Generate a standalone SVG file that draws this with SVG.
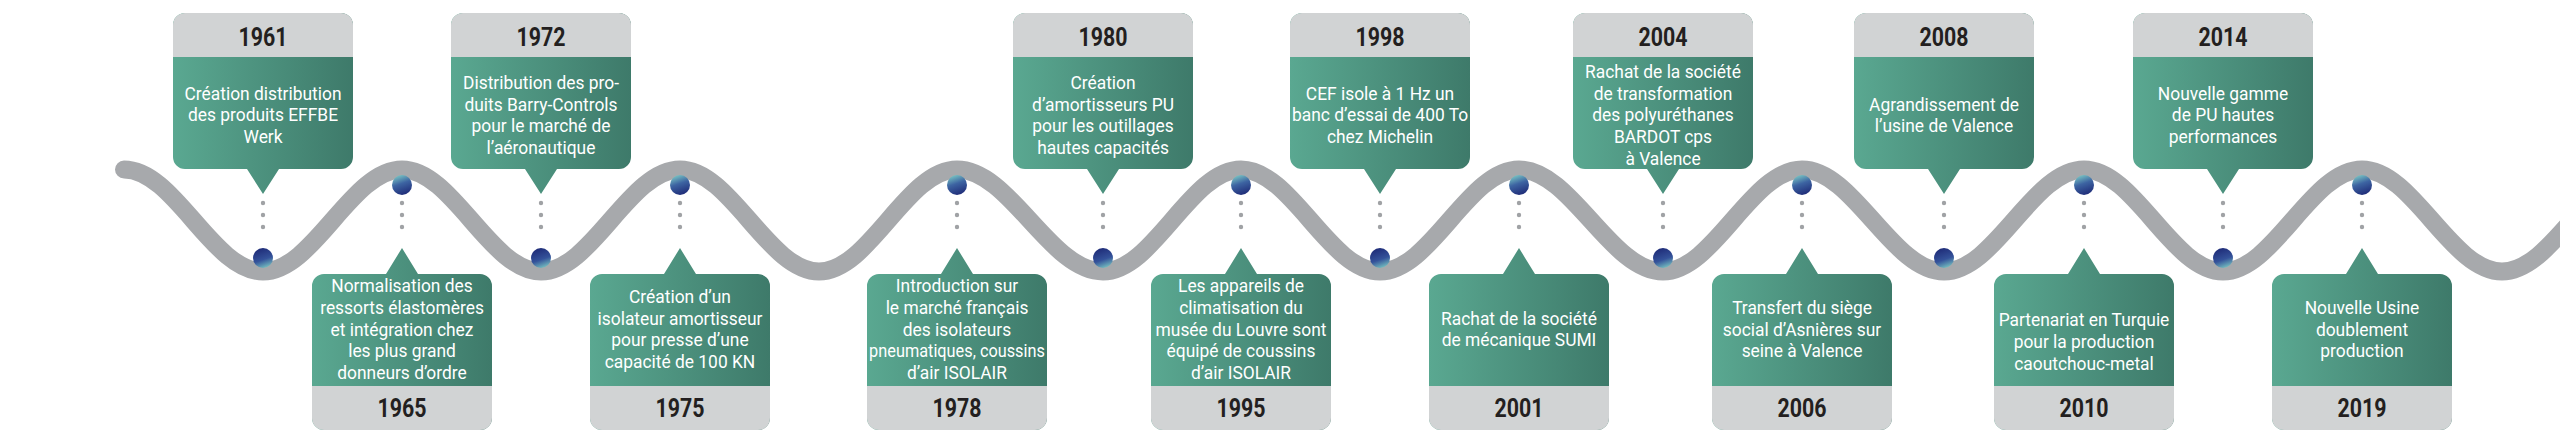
<svg xmlns="http://www.w3.org/2000/svg" xmlns:xlink="http://www.w3.org/1999/xlink" width="2560" height="447" viewBox="0 0 2560 447">
<style>
.wave{fill:none;stroke:#a7a9ac;stroke-width:18;stroke-linecap:round}
.card{fill:url(#gGreen)}
.head{fill:#d1d3d4}
.yr{font-family:Roboto,"Liberation Sans",sans-serif;font-weight:700;font-size:25.5px;fill:#231f20;text-anchor:middle}
.txt{font-family:Roboto,"Liberation Sans",sans-serif;font-size:18.5px;fill:#ffffff;text-anchor:middle}
.dots{fill:none;stroke:#a0a2a5;stroke-width:4.4;stroke-linecap:round;stroke-dasharray:0 12}
.pk{fill:url(#gPk)}
.tr{fill:url(#gTr)}
</style>
<defs>
<linearGradient id="gGreen" x1="0" y1="0" x2="1" y2="0">
<stop offset="0" stop-color="#5aa891"/>
<stop offset="1" stop-color="#3e7a6a"/>
</linearGradient>
<linearGradient id="gPk" x1="0.25" y1="0" x2="0.6" y2="1">
<stop offset="0" stop-color="#7ccac5"/>
<stop offset="0.45" stop-color="#3d64a2"/>
<stop offset="1" stop-color="#1f2c78"/>
</linearGradient>
<linearGradient id="gTr" x1="0.4" y1="0" x2="0.75" y2="1">
<stop offset="0" stop-color="#1f2c78"/>
<stop offset="0.55" stop-color="#34529a"/>
<stop offset="1" stop-color="#7ccac3"/>
</linearGradient>
<path id="tb" d="M12 13H168A12 12 0 0 1 180 25V157A12 12 0 0 1 168 169H106L90 194L74 169H12A12 12 0 0 1 0 157V25A12 12 0 0 1 12 13Z"/>
<path id="th" d="M0 57V25A12 12 0 0 1 12 13H168A12 12 0 0 1 180 25V57Z"/>
<path id="bb" d="M12 274H74L90 248L106 274H168A12 12 0 0 1 180 286V418A12 12 0 0 1 168 430H12A12 12 0 0 1 0 418V286A12 12 0 0 1 12 274Z"/>
<path id="bh" d="M0 386H180V418A12 12 0 0 1 168 430H12A12 12 0 0 1 0 418Z"/>
</defs>

<g id="wave">
<path class="wave" d="M124 169.5C174.5 169.5 212.5 271.5 263 271.5C313.5 271.5 351.5 169.5 402 169.5C452.5 169.5 490.5 271.5 541 271.5C591.5 271.5 629.5 169.5 680 169.5C730.5 169.5 768.5 271.5 819 271.5C869.2 271.5 906.8 169.5 957 169.5C1010.1 169.5 1049.9 271.5 1103 271.5C1153.2 271.5 1190.8 169.5 1241 169.5C1291.5 169.5 1329.5 271.5 1380 271.5C1430.5 271.5 1468.5 169.5 1519 169.5C1571.3 169.5 1610.7 271.5 1663 271.5C1713.5 271.5 1751.5 169.5 1802 169.5C1853.6 169.5 1892.4 271.5 1944 271.5C1994.9 271.5 2033.1 169.5 2084 169.5C2134.5 169.5 2172.5 271.5 2223 271.5C2273.5 271.5 2311.5 169.5 2362 169.5C2412.9 169.5 2451.1 271.5 2502 271.5C2552.9 271.5 2591.1 169.5 2642 169.5"/>
</g>

<g id="connectors">
<path class="dots" d="M263 203V239M402 203V239M541 203V239M680 203V239M1103 203V239M957 203V239M1241 203V239M1380 203V239M1519 203V239M1663 203V239M1802 203V239M1944 203V239M2084 203V239M2223 203V239M2362 203V239"/>
</g>

<g id="n1961" transform="translate(173 0)">
<use href="#tb" class="card"/><use href="#th" class="head"/>
<text class="yr" x="90" y="46" textLength="49" lengthAdjust="spacingAndGlyphs">1961</text>
<g transform="matrix(0.94 0 0 1 90 0)"><text class="txt"><tspan x="0" y="99.7">Création distribution</tspan><tspan x="0" y="121.4">des produits EFFBE</tspan><tspan x="0" y="143.1">Werk</tspan></text></g>
<circle class="tr" cx="90" cy="258" r="10"/>
</g>

<g id="n1965" transform="translate(312 0)">
<use href="#bb" class="card"/><use href="#bh" class="head"/>
<text class="yr" x="90" y="417" textLength="49" lengthAdjust="spacingAndGlyphs">1965</text>
<g transform="matrix(0.94 0 0 1 90 0)"><text class="txt"><tspan x="0" y="292.2">Normalisation des</tspan><tspan x="0" y="313.9">ressorts élastomères</tspan><tspan x="0" y="335.6">et intégration chez</tspan><tspan x="0" y="357.3">les plus grand</tspan><tspan x="0" y="379">donneurs d’ordre</tspan></text></g>
<circle class="pk" cx="90" cy="185" r="10"/>
</g>

<g id="n1972" transform="translate(451 0)">
<use href="#tb" class="card"/><use href="#th" class="head"/>
<text class="yr" x="90" y="46" textLength="49" lengthAdjust="spacingAndGlyphs">1972</text>
<g transform="matrix(0.94 0 0 1 90 0)"><text class="txt"><tspan x="0" y="88.85">Distribution des pro-</tspan><tspan x="0" y="110.55">duits Barry-Controls</tspan><tspan x="0" y="132.25">pour le marché de</tspan><tspan x="0" y="153.95">l’aéronautique</tspan></text></g>
<circle class="tr" cx="90" cy="258" r="10"/>
</g>

<g id="n1975" transform="translate(590 0)">
<use href="#bb" class="card"/><use href="#bh" class="head"/>
<text class="yr" x="90" y="417" textLength="49" lengthAdjust="spacingAndGlyphs">1975</text>
<g transform="matrix(0.94 0 0 1 90 0)"><text class="txt"><tspan x="0" y="303.05">Création d’un</tspan><tspan x="0" y="324.75">isolateur amortisseur</tspan><tspan x="0" y="346.45">pour presse d’une</tspan><tspan x="0" y="368.15">capacité de 100 KN</tspan></text></g>
<circle class="pk" cx="90" cy="185" r="10"/>
</g>

<g id="n1978" transform="translate(867 0)">
<use href="#bb" class="card"/><use href="#bh" class="head"/>
<text class="yr" x="90" y="417" textLength="49" lengthAdjust="spacingAndGlyphs">1978</text>
<g transform="matrix(0.94 0 0 1 90 0)"><text class="txt"><tspan x="0" y="292.2">Introduction sur</tspan><tspan x="0" y="313.9">le marché français</tspan><tspan x="0" y="335.6">des isolateurs</tspan><tspan x="0" y="357.3" textLength="187" lengthAdjust="spacingAndGlyphs">pneumatiques, coussins</tspan><tspan x="0" y="379">d’air ISOLAIR</tspan></text></g>
<circle class="pk" cx="90" cy="185" r="10"/>
</g>

<g id="n1980" transform="translate(1013 0)">
<use href="#tb" class="card"/><use href="#th" class="head"/>
<text class="yr" x="90" y="46" textLength="49" lengthAdjust="spacingAndGlyphs">1980</text>
<g transform="matrix(0.94 0 0 1 90 0)"><text class="txt"><tspan x="0" y="88.85">Création</tspan><tspan x="0" y="110.55">d’amortisseurs PU</tspan><tspan x="0" y="132.25">pour les outillages</tspan><tspan x="0" y="153.95">hautes capacités</tspan></text></g>
<circle class="tr" cx="90" cy="258" r="10"/>
</g>

<g id="n1995" transform="translate(1151 0)">
<use href="#bb" class="card"/><use href="#bh" class="head"/>
<text class="yr" x="90" y="417" textLength="49" lengthAdjust="spacingAndGlyphs">1995</text>
<g transform="matrix(0.94 0 0 1 90 0)"><text class="txt"><tspan x="0" y="292.2">Les appareils de</tspan><tspan x="0" y="313.9">climatisation du</tspan><tspan x="0" y="335.6">musée du Louvre sont</tspan><tspan x="0" y="357.3">équipé de coussins</tspan><tspan x="0" y="379">d’air ISOLAIR</tspan></text></g>
<circle class="pk" cx="90" cy="185" r="10"/>
</g>

<g id="n1998" transform="translate(1290 0)">
<use href="#tb" class="card"/><use href="#th" class="head"/>
<text class="yr" x="90" y="46" textLength="49" lengthAdjust="spacingAndGlyphs">1998</text>
<g transform="matrix(0.94 0 0 1 90 0)"><text class="txt"><tspan x="0" y="99.7">CEF isole à 1 Hz un</tspan><tspan x="0" y="121.4">banc d’essai de 400 To</tspan><tspan x="0" y="143.1">chez Michelin</tspan></text></g>
<circle class="tr" cx="90" cy="258" r="10"/>
</g>

<g id="n2001" transform="translate(1429 0)">
<use href="#bb" class="card"/><use href="#bh" class="head"/>
<text class="yr" x="90" y="417" textLength="49" lengthAdjust="spacingAndGlyphs">2001</text>
<g transform="matrix(0.94 0 0 1 90 0)"><text class="txt"><tspan x="0" y="324.75">Rachat de la société</tspan><tspan x="0" y="346.45">de mécanique SUMI</tspan></text></g>
<circle class="pk" cx="90" cy="185" r="10"/>
</g>

<g id="n2004" transform="translate(1573 0)">
<use href="#tb" class="card"/><use href="#th" class="head"/>
<text class="yr" x="90" y="46" textLength="49" lengthAdjust="spacingAndGlyphs">2004</text>
<g transform="matrix(0.94 0 0 1 90 0)"><text class="txt"><tspan x="0" y="78">Rachat de la société</tspan><tspan x="0" y="99.7">de transformation</tspan><tspan x="0" y="121.4">des polyuréthanes</tspan><tspan x="0" y="143.1">BARDOT cps</tspan><tspan x="0" y="164.8">à Valence</tspan></text></g>
<circle class="tr" cx="90" cy="258" r="10"/>
</g>

<g id="n2006" transform="translate(1712 0)">
<use href="#bb" class="card"/><use href="#bh" class="head"/>
<text class="yr" x="90" y="417" textLength="49" lengthAdjust="spacingAndGlyphs">2006</text>
<g transform="matrix(0.94 0 0 1 90 0)"><text class="txt"><tspan x="0" y="313.9">Transfert du siège</tspan><tspan x="0" y="335.6">social d’Asnières sur</tspan><tspan x="0" y="357.3">seine à Valence</tspan></text></g>
<circle class="pk" cx="90" cy="185" r="10"/>
</g>

<g id="n2008" transform="translate(1854 0)">
<use href="#tb" class="card"/><use href="#th" class="head"/>
<text class="yr" x="90" y="46" textLength="49" lengthAdjust="spacingAndGlyphs">2008</text>
<g transform="matrix(0.94 0 0 1 90 0)"><text class="txt"><tspan x="0" y="110.55">Agrandissement de</tspan><tspan x="0" y="132.25">l’usine de Valence</tspan></text></g>
<circle class="tr" cx="90" cy="258" r="10"/>
</g>

<g id="n2010" transform="translate(1994 0)">
<use href="#bb" class="card"/><use href="#bh" class="head"/>
<text class="yr" x="90" y="417" textLength="49" lengthAdjust="spacingAndGlyphs">2010</text>
<g transform="matrix(0.94 0 0 1 90 0)"><text class="txt"><tspan x="0" y="326.3">Partenariat en Turquie</tspan><tspan x="0" y="348">pour la production</tspan><tspan x="0" y="369.7">caoutchouc-metal</tspan></text></g>
<circle class="pk" cx="90" cy="185" r="10"/>
</g>

<g id="n2014" transform="translate(2133 0)">
<use href="#tb" class="card"/><use href="#th" class="head"/>
<text class="yr" x="90" y="46" textLength="49" lengthAdjust="spacingAndGlyphs">2014</text>
<g transform="matrix(0.94 0 0 1 90 0)"><text class="txt"><tspan x="0" y="99.7">Nouvelle gamme</tspan><tspan x="0" y="121.4">de PU hautes</tspan><tspan x="0" y="143.1">performances</tspan></text></g>
<circle class="tr" cx="90" cy="258" r="10"/>
</g>

<g id="n2019" transform="translate(2272 0)">
<use href="#bb" class="card"/><use href="#bh" class="head"/>
<text class="yr" x="90" y="417" textLength="49" lengthAdjust="spacingAndGlyphs">2019</text>
<g transform="matrix(0.94 0 0 1 90 0)"><text class="txt"><tspan x="0" y="313.9">Nouvelle Usine</tspan><tspan x="0" y="335.6">doublement</tspan><tspan x="0" y="357.3">production</tspan></text></g>
<circle class="pk" cx="90" cy="185" r="10"/>
</g>
</svg>
